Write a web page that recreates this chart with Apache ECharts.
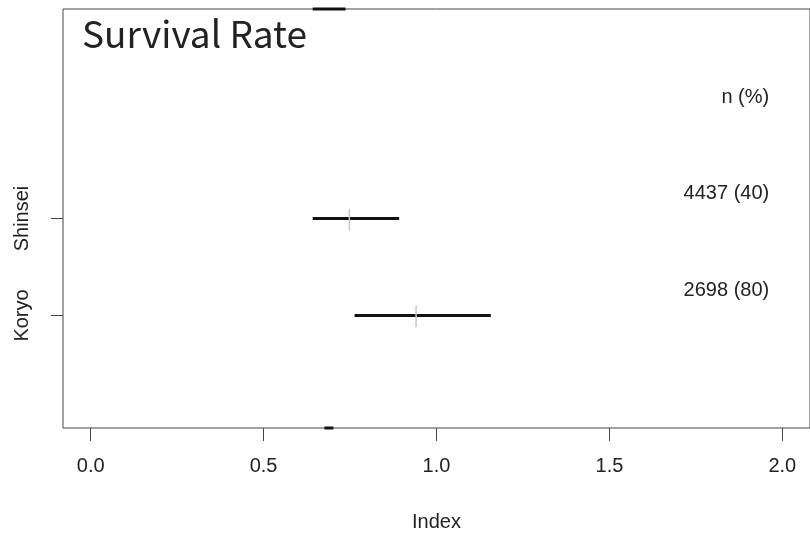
<!DOCTYPE html>
<html>
<head>
<meta charset="utf-8">
<script src="https://cdn.jsdelivr.net/npm/echarts@6/dist/echarts.min.js"></script>
<style>html,body{margin:0;padding:0;background:#fff;}#c{width:810px;height:540px;}</style>
</head>
<body>
<div id="c"></div>
<script>
// ---- data ----
const categories = ['Koryo', 'Shinsei'];
const yPositions = [1, 2];
const estimates = [0.941, 0.748];
const lowers = [0.763, 0.642];
const uppers = [1.157, 0.892];
const nLabels = ['2698 (80)', '4437 (40)'];
const headerLabel = 'n (%)';
const headerY = 3.25;
const labelYOffset = 0.26;
const labelX = 1.962;
const xTicks = [0, 0.5, 1, 1.5, 2];
const xMin = -0.08, xMax = 2.08;
const yMin = -0.16, yMax = 4.16;
// stray segments on the frame edges
const edgeLows = [0.642, 0.676];
const edgeHighs = [0.737, 0.702];
const edgeYs = [4.16, -0.16];

const ciData = yPositions.map((y, i) => [lowers[i], uppers[i], estimates[i], y]);
const edgeData = edgeYs.map((y, i) => [edgeLows[i], edgeHighs[i], y]);
const textData = [[labelX, headerY, headerLabel]].concat(
  yPositions.map((y, i) => [labelX, y + labelYOffset, nLabels[i]]));

const font = 'Liberation Sans, Arial, sans-serif';
const chart = echarts.init(document.getElementById('c'), null, {renderer: 'canvas'});
chart.setOption({
  animation: false,
  backgroundColor: '#ffffff',
  title: {
    text: 'Survival Rate', left: 77, top: 10,
    textStyle: {fontFamily: 'Noto Sans CJK JP', fontWeight: 'normal', fontSize: 37, color: '#222'}
  },
  grid: {left: 63, top: 9, width: 751, height: 419, show: true, borderColor: '#444', borderWidth: 1, backgroundColor: 'transparent'},
  xAxis: {
    type: 'value', min: xMin, max: xMax, position: 'bottom',
    name: 'Index', nameLocation: 'middle', nameGap: 84,
    nameTextStyle: {fontFamily: font, fontSize: 20, color: '#222'},
    axisLine: {show: false, onZero: false},
    splitLine: {show: false},
    axisTick: {show: true, inside: false, length: 13, customValues: xTicks, lineStyle: {color: '#444', width: 1}},
    axisLabel: {customValues: xTicks, margin: 28, fontFamily: font, fontSize: 20, color: '#222',
      formatter: v => Number(v).toFixed(1)}
  },
  yAxis: {
    type: 'value', min: yMin, max: yMax, position: 'left',
    axisLine: {show: false, onZero: false},
    splitLine: {show: false},
    axisTick: {show: true, inside: false, length: 12, customValues: yPositions, lineStyle: {color: '#444', width: 1}},
    axisLabel: {customValues: yPositions, rotate: 90, margin: 31, fontFamily: font, fontSize: 20, color: '#222',
      formatter: v => categories[yPositions.indexOf(Math.round(v))] || ''}
  },
  series: [
    {
      type: 'custom', clip: false, data: ciData,
      renderItem: (params, api) => {
        const a = api.coord([api.value(0), api.value(3)]);
        const b = api.coord([api.value(1), api.value(3)]);
        const t1 = api.coord([api.value(2), api.value(3) + 0.1]);
        const t2 = api.coord([api.value(2), api.value(3) - 0.12]);
        return {type: 'group', children: [
          {type: 'line', shape: {x1: a[0], y1: a[1], x2: b[0], y2: b[1]}, style: {stroke: '#111', lineWidth: 3}},
          {type: 'line', shape: {x1: t1[0], y1: t1[1], x2: t2[0], y2: t2[1]}, style: {stroke: '#c4c4d2', lineWidth: 1.5}}
        ]};
      }
    },
    {
      type: 'custom', clip: false, data: edgeData,
      renderItem: (params, api) => {
        const a = api.coord([api.value(0), api.value(2)]);
        const b = api.coord([api.value(1), api.value(2)]);
        return {type: 'line', shape: {x1: a[0], y1: a[1], x2: b[0], y2: b[1]}, style: {stroke: '#111', lineWidth: 3}};
      }
    },
    {
      type: 'custom', clip: false, data: textData,
      renderItem: (params, api) => {
        const p = api.coord([api.value(0), api.value(1)]);
        return {type: 'text', x: p[0], y: p[1], style: {
          text: textData[params.dataIndex][2], align: 'right', verticalAlign: 'middle',
          font: '20px ' + font, fill: '#222'}};
      }
    }
  ]
});
</script>
</body>
</html>
